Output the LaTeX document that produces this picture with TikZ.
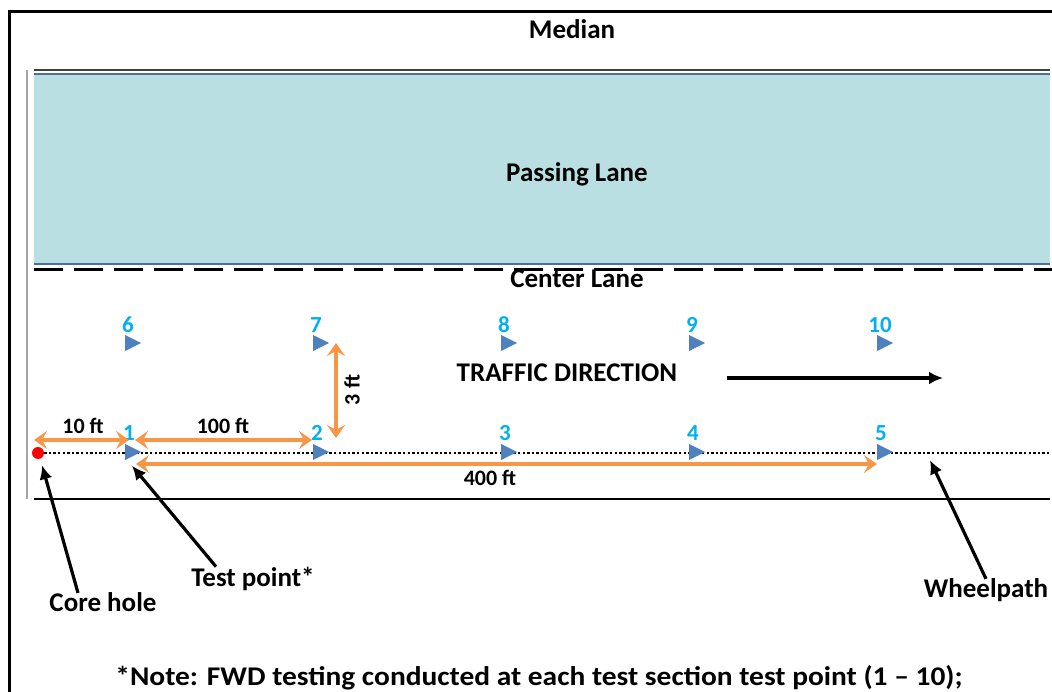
\documentclass[tikz,border=0pt]{standalone}
\usepackage{fontspec}
\setmainfont{Carlito}
\usetikzlibrary{arrows.meta,positioning,shapes.geometric}
\definecolor{lanefill}{RGB}{185,223,226}
\definecolor{laneblue}{RGB}{79,110,160}
\definecolor{ptblue}{RGB}{79,129,189}
\definecolor{ptcyan}{RGB}{0,176,240}
\definecolor{dimorange}{RGB}{247,150,70}
\tikzset{font={\fontsize{27pt}{32pt}\selectfont\bfseries}}

\begin{document}
\begin{tikzpicture}[x=1pt,y=-1pt,
testpt/.style={isosceles triangle,isosceles triangle stretches,fill=ptblue,inner sep=0pt,minimum width=16pt,minimum height=16pt},
ptnum/.style={text=ptcyan,inner sep=1pt,font={\fontsize{23pt}{26pt}\selectfont\bfseries}},
dim/.style={draw=dimorange,line width=4pt,{Stealth[length=13pt,width=18pt,inset=5pt]}-{Stealth[length=13pt,width=18pt,inset=5pt]}},
dimlbl/.style={font={\fontsize{22pt}{26pt}\selectfont\bfseries}},
pointer/.style={draw,line width=3.2pt,-{Latex[length=14pt,width=13pt]}}
]
\useasboundingbox (0,0) rectangle (1052,692);
% frame and road
\draw[line width=3pt] (9,692) -- (9,12) -- (1052,12);
\draw[gray!70,line width=2pt] (27,70) -- (27,499);
\fill[lanefill] (34,74) rectangle (1050,264);
\draw[black!75,line width=2pt] (34,70.5) -- (1050,70.5);
\draw[laneblue,line width=1.5pt] (34,74) -- (1050,74);
\draw[laneblue,line width=1.5pt] (34,264) -- (1050,264);
\draw[line width=3pt,dash pattern=on 29pt off 11pt] (34,270) -- (1052,270);
\draw[line width=2pt] (34,499) -- (1050,499);

\node (median) at (572,29) {Median};
\node (pass) at (577,174) {Passing Lane};
\node (center) at (577,279) {Center Lane};

% wheelpath and test points
\node[circle,fill=red,inner sep=0pt,minimum size=12pt] (core) at (38,453) {};
\coordinate (pathend) at (1052,453);
\draw[line width=2.4pt,dash pattern=on 2.4pt off 2.2pt] (core) -- (pathend);
\foreach \n/\x in {1/130,2/318,3/506,4/694,5/882}{
\node[testpt] (p\n) at (\x,452) {};
\node[ptnum] (n\n) at (\x-1,433) {\n};
}
\foreach \n/\x in {6/130,7/318,8/506,9/694,10/882}{
\node[testpt] (p\n) at (\x,343) {};
\node[ptnum] (n\n) at (\x-2,325) {\n};
}

% dimensions
\coordinate (d10a) at (34,440); \coordinate (d10b) at (129,440);
\coordinate (d100a) at (135,440); \coordinate (d100b) at (312,440);
\coordinate (d3a) at (336,343); \coordinate (d3b) at (336,438);
\coordinate (d400a) at (136,464); \coordinate (d400b) at (877,464);
\draw[dim] (d10a) -- (d10b);
\draw[dim] (d100a) -- (d100b);
\draw[dim] (d3a) -- (d3b);
\draw[dim] (d400a) -- (d400b);
\node[dimlbl] (l10) at (83,426) {10 ft};
\node[dimlbl] (l100) at (223,426) {100 ft};
\node[dimlbl,rotate=90] (l3) at (352,390) {3 ft};
\node[dimlbl] (l400) at (490,478) {400 ft};

% traffic
\node (traffic) at (567,373) {TRAFFIC DIRECTION};
\coordinate (tda) at (727,378); \coordinate (tdb) at (943,378);
\draw[pointer] (tda) -- (tdb);

% callouts
\node (corelbl) at (103,602) {Core hole};
\node (testlbl) at (253,579) {Test point*};
\node (wheellbl) at (986,590) {Wheelpath};
\coordinate (wp) at (930,460);
\draw[pointer] ([xshift=-25pt,yshift=-4pt]corelbl.north) -- ([xshift=4pt,yshift=-6pt]core.south);
\draw[pointer] ([xshift=-37pt,yshift=-3pt]testlbl.north) -- ([xshift=2pt,yshift=-8pt]p1.south);
\draw[pointer] ([yshift=-4pt]wheellbl.north) -- (wp);

\node[anchor=base,xscale=1.09] (note) at (539,685) {*Note: FWD testing conducted at each test section test point (1 – 10);};
\end{tikzpicture}
\end{document}
